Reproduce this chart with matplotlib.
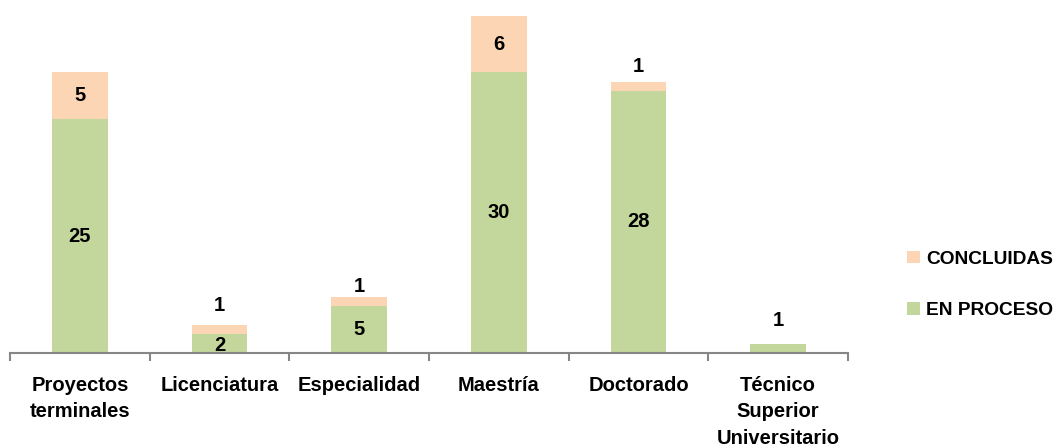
import matplotlib.pyplot as plt
import numpy as np

# ================================
# Data
# ================================

CATEGORIES = [
    "Proyectos\nterminales",
    "Licenciatura",
    "Especialidad",
    "Maestría",
    "Doctorado",
    "Técnico\nSuperior\nUniversitario",
]
EN_PROCESO = [25, 2, 5, 30, 28, 1]
CONCLUIDAS = [5, 1, 1, 6, 1, 0]

GREEN = "#C3D69B"
PEACH = "#FCD5B5"
AXIS_GREY = "#868686"

plt.rcParams["font.family"] = ["Liberation Sans", "DejaVu Sans"]
plt.rcParams["font.weight"] = "bold"
FS = 14.5

# label offset above the bar for thin segments (data units)
ABOVE = [0, 2.1, 1.1, 0, 1.6, 2.5]

# ================================
# Plot
# ================================

W, H = 1062, 448
fig = plt.figure(figsize=(W / 100, H / 100), dpi=100)
ax = fig.add_axes([10 / W, (H - 353) / H, (848 - 10) / W, (353 - 10) / H])

x = np.arange(len(CATEGORIES))
width = 0.4
b1 = ax.bar(x, EN_PROCESO, width, color=GREEN, label="EN PROCESO")
b2 = ax.bar(x, CONCLUIDAS, width, bottom=EN_PROCESO, color=PEACH, label="CONCLUIDAS")

ax.set_xlim(-0.5, len(CATEGORIES) - 0.5)
ax.set_ylim(0, 36.65)

for i, (g, c) in enumerate(zip(EN_PROCESO, CONCLUIDAS)):
    top = g + c
    if c == 0:
        # only the green segment, label above
        ax.text(i, top + ABOVE[i], str(g), ha="center", va="center", fontsize=FS)
    else:
        yg = g / 2 if g >= 5 else g / 2 - 0.2
        ax.text(i, yg, str(g), ha="center", va="center", fontsize=FS)
        if c >= 5:
            ax.text(i, g + c / 2, str(c), ha="center", va="center", fontsize=FS)
        else:
            ax.text(i, top + ABOVE[i], str(c), ha="center", va="center", fontsize=FS)

for spine in ["top", "right", "left"]:
    ax.spines[spine].set_visible(False)
ax.spines["bottom"].set_color(AXIS_GREY)
ax.spines["bottom"].set_linewidth(1.5)

ax.set_yticks([])
ax.set_xticks(np.arange(-0.5, len(CATEGORIES)))
ax.set_xticklabels([])
ax.tick_params(axis="x", length=6, width=1.5, color=AXIS_GREY, direction="out")

for i, name in enumerate(CATEGORIES):
    ax.text(i, -2.45, name, ha="center", va="top", fontsize=FS, linespacing=1.5)

leg = fig.legend([b2, b1], ["CONCLUIDAS", "EN PROCESO"], loc="center left",
                 bbox_to_anchor=(890 / W, 1 - 285 / H), frameon=False,
                 fontsize=13.8, handlelength=0.65, handleheight=0.65,
                 handletextpad=0.35, labelspacing=1.8)

fig.savefig("out.png", dpi=100)
